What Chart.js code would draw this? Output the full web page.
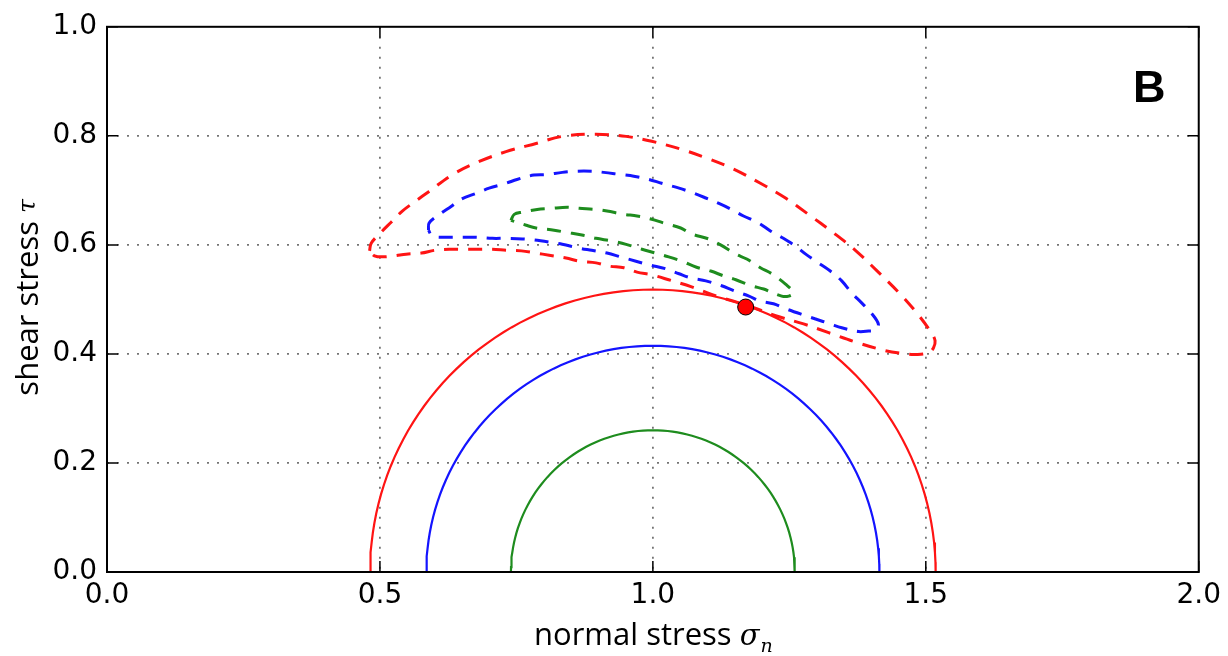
<!DOCTYPE html>
<html>
<head>
<meta charset="utf-8">
<script src="https://cdn.jsdelivr.net/npm/chart.js@4.4.1/dist/chart.umd.min.js"></script>
<style>
html,body{margin:0;padding:0;background:#fff;}
#wrap{width:1228px;height:656px;position:relative;}
</style>
</head>
<body>
<div id="wrap"><canvas id="c" width="1228" height="656"></canvas></div>
<script>
// ---- tick values ----
const xTickValues = [0.0, 0.5, 1.0, 1.5, 2.0];
const yTickValues = [0.0, 0.2, 0.4, 0.6, 0.8, 1.0];

// ---- Mohr circles: principal stresses (red, blue, green) ----
const circleNames = ['red', 'blue', 'green'];
const circleSigma3 = [0.482, 0.585, 0.740];
const circleSigma1 = [1.518, 1.415, 1.260];

// ---- dashed loops (normal stress, shear stress) ----
const redLoopSigma = [0.481,0.484,0.501,0.521,0.541,0.565,0.590,0.633,0.682,0.731,0.786,0.834,0.896,0.951,0.998,1.053,1.099,1.148,1.197,1.243,1.285,1.331,1.371,1.413,1.453,1.486,1.510,1.517,1.514,1.505,1.481,1.463,1.426,1.377,1.322,1.276,1.225,1.176,1.117,1.071,1.029,0.998,0.971,0.947,0.920,0.896,0.865,0.841,0.810,0.786,0.759,0.733,0.706,0.678,0.651,0.627,0.600,0.576,0.548,0.527,0.505,0.490,0.481];
const redLoopTau   = [0.589,0.603,0.622,0.642,0.662,0.680,0.698,0.729,0.753,0.771,0.786,0.799,0.803,0.799,0.790,0.775,0.759,0.739,0.713,0.686,0.656,0.622,0.590,0.550,0.510,0.472,0.439,0.424,0.411,0.402,0.399,0.400,0.406,0.420,0.439,0.455,0.470,0.488,0.506,0.523,0.536,0.545,0.550,0.558,0.561,0.567,0.570,0.576,0.581,0.585,0.589,0.590,0.592,0.592,0.592,0.592,0.590,0.585,0.583,0.580,0.578,0.580,0.589];

const blueLoopSigma = [0.589,0.590,0.609,0.631,0.649,0.678,0.700,0.731,0.751,0.782,0.804,0.834,0.859,0.888,0.910,0.941,0.965,0.993,1.016,1.048,1.069,1.097,1.121,1.144,1.166,1.194,1.216,1.239,1.261,1.280,1.303,1.325,1.346,1.364,1.382,1.400,1.413,1.408,1.395,1.377,1.346,1.325,1.298,1.280,1.243,1.221,1.197,1.176,1.148,1.126,1.097,1.071,1.048,1.024,0.995,0.969,0.941,0.916,0.888,0.865,0.834,0.810,0.782,0.761,0.731,0.706,0.676,0.651,0.622,0.596,0.589];
const blueLoopTau   = [0.627,0.640,0.656,0.671,0.684,0.695,0.704,0.713,0.720,0.728,0.729,0.733,0.735,0.735,0.733,0.729,0.726,0.720,0.713,0.704,0.697,0.686,0.676,0.665,0.653,0.640,0.625,0.612,0.598,0.583,0.567,0.552,0.534,0.512,0.494,0.475,0.455,0.444,0.442,0.441,0.448,0.455,0.464,0.470,0.483,0.492,0.497,0.506,0.516,0.525,0.534,0.539,0.547,0.556,0.563,0.570,0.578,0.585,0.590,0.594,0.601,0.605,0.609,0.611,0.612,0.612,0.614,0.614,0.614,0.616,0.627];

const greenLoopSigma = [0.740,0.746,0.761,0.788,0.814,0.843,0.865,0.896,0.916,0.947,0.971,0.998,1.020,1.051,1.071,1.102,1.124,1.152,1.172,1.197,1.218,1.243,1.258,1.249,1.236,1.203,1.181,1.152,1.130,1.106,1.080,1.053,1.029,1.005,0.980,0.951,0.925,0.896,0.870,0.841,0.819,0.786,0.768,0.740];
const greenLoopTau   = [0.645,0.656,0.660,0.665,0.667,0.669,0.667,0.665,0.662,0.656,0.653,0.647,0.640,0.631,0.620,0.611,0.600,0.583,0.574,0.558,0.547,0.528,0.512,0.506,0.506,0.519,0.525,0.536,0.543,0.552,0.559,0.570,0.578,0.585,0.592,0.601,0.607,0.612,0.618,0.623,0.627,0.631,0.636,0.645];

// ---- marked point ----
const pointSigma = [1.170];
const pointTau   = [0.486];

const colors = { red: 'rgb(255,20,20)', blue: 'rgb(20,20,255)', green: 'rgb(30,140,30)' };

function pairs(xs, ys){ return xs.map((x,i)=>({x:x, y:ys[i]})); }
function semicircle(s3, s1){
  const c=(s1+s3)/2, r=(s1-s3)/2, pts=[];
  for(let k=0;k<=90;k++){ const a=Math.PI*k/90; pts.push({x:c - r*Math.cos(a), y:r*Math.sin(a)}); }
  return pts;
}

const datasets = [];
datasets.push({ data: pairs(pointSigma, pointTau), showLine:false, pointRadius:8, pointHoverRadius:8,
  pointBackgroundColor:'rgb(255,0,0)', pointBorderColor:'#000', pointBorderWidth:1 });
const loops = {red:[redLoopSigma, redLoopTau], blue:[blueLoopSigma, blueLoopTau], green:[greenLoopSigma, greenLoopTau]};
for (const n of circleNames){
  datasets.push({ data: pairs(loops[n][0], loops[n][1]), showLine:true, pointRadius:0, borderColor:colors[n],
    borderWidth:3, borderDash:[14,10], tension:0.35, fill:false });
}
circleNames.forEach((n,i)=>{
  datasets.push({ data: semicircle(circleSigma3[i], circleSigma1[i]), showLine:true, pointRadius:0,
    borderColor:colors[n], borderWidth:2.2, tension:0, fill:false });
});

const framePlugin = {
  id:'frame',
  afterDraw(chart){
    const {ctx, chartArea:a, scales} = chart;
    ctx.save();
    ctx.strokeStyle='#000'; ctx.lineWidth=1.5;
    // inward ticks
    const L=11;
    ctx.beginPath();
    xTickValues.forEach(v=>{ const px=scales.x.getPixelForValue(v);
      ctx.moveTo(px,a.bottom); ctx.lineTo(px,a.bottom-L); ctx.moveTo(px,a.top); ctx.lineTo(px,a.top+L); });
    yTickValues.forEach(v=>{ const py=scales.y.getPixelForValue(v);
      ctx.moveTo(a.left,py); ctx.lineTo(a.left+L,py); ctx.moveTo(a.right,py); ctx.lineTo(a.right-L,py); });
    ctx.stroke();
    ctx.lineWidth=2;
    ctx.strokeRect(a.left, a.top, a.right-a.left, a.bottom-a.top);

    ctx.fillStyle='#000';
    // x title
    const f1='31px "Open Sans"', f2='italic 29px "DejaVu Serif"', f3='italic 19px "DejaVu Serif"';
    const t1='normal stress ', t2='σ', t3='n';
    ctx.font=f1; const w1=ctx.measureText(t1).width;
    ctx.font=f2; const w2=ctx.measureText(t2).width;
    ctx.font=f3; const w3=ctx.measureText(t3).width;
    let x0=(a.left+a.right)/2-(w1+w2+w3)/2; const by=645;
    ctx.textBaseline='alphabetic'; ctx.textAlign='left';
    ctx.font=f1; ctx.fillText(t1,x0,by);
    ctx.font=f2; ctx.fillText(t2,x0+w1,by);
    ctx.font=f3; ctx.fillText(t3,x0+w1+w2+1,by+7);
    // y title
    const u1='shear stress ', u2='τ';
    ctx.font=f1; const v1=ctx.measureText(u1).width;
    ctx.font='italic 25px "DejaVu Serif"'; const v2=ctx.measureText(u2).width;
    ctx.translate(38,(a.top+a.bottom)/2 - 2);
    ctx.rotate(-Math.PI/2);
    const s0=-(v1+v2)/2;
    ctx.font=f1; ctx.fillText(u1,s0,0);
    ctx.font='italic 25px "DejaVu Serif"'; ctx.fillText(u2,s0+v1,-3);
    ctx.setTransform(1,0,0,1,0,0);
    // panel letter
    ctx.font='bold 45px "Liberation Sans"';
    ctx.fillText('B',1133,102);
    ctx.restore();
  }
};

const edgeTransparent = (vals)=> (c)=>{
  const v=c.tick ? c.tick.value : null;
  return (v===vals[0] || v===vals[vals.length-1]) ? 'rgba(0,0,0,0)' : 'rgba(70,70,70,0.75)';
};

new Chart(document.getElementById('c'), {
  type:'scatter',
  data:{ datasets },
  options:{
    responsive:false, animation:false, devicePixelRatio:1,
    layout:{ padding:{ top:25, right:27, bottom:0, left:0 } },
    plugins:{ legend:{display:false}, tooltip:{enabled:false} },
    scales:{
      x:{ type:'linear', min:0, max:2,
        afterBuildTicks(s){ s.ticks = xTickValues.map(v=>({value:v})); },
        afterFit(s){ s.height=84; },
        ticks:{ callback:(v)=>Number(v).toFixed(1), color:'#000', padding:7, maxRotation:0, autoSkip:false,
          font:{ family:'"DejaVu Sans"', size:28 } },
        grid:{ color: edgeTransparent(xTickValues), lineWidth:1.8, drawTicks:false },
        border:{ display:false, dash:[2,8] }
      },
      y:{ type:'linear', min:0, max:1,
        afterBuildTicks(s){ s.ticks = yTickValues.map(v=>({value:v})); },
        afterFit(s){ s.width=107; },
        ticks:{ callback:(v)=>Number(v).toFixed(1), color:'#000', padding:10, autoSkip:false,
          font:{ family:'"DejaVu Sans"', size:28 } },
        grid:{ color: edgeTransparent(yTickValues), lineWidth:1.8, drawTicks:false },
        border:{ display:false, dash:[2,8] }
      }
    }
  },
  plugins:[framePlugin]
});
</script>
</body>
</html>
